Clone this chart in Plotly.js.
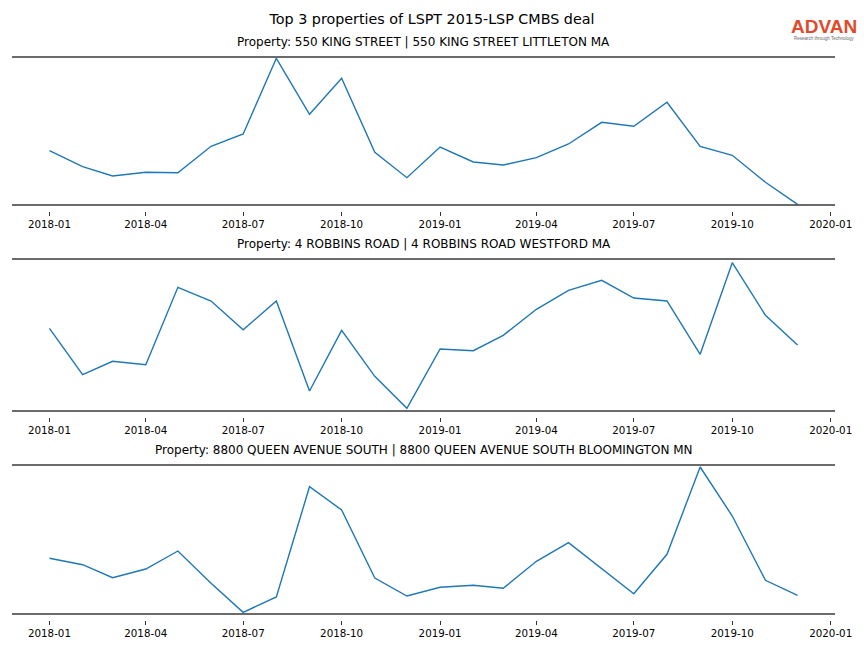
<!DOCTYPE html>
<html>
<head>
<meta charset="utf-8">
<script src="https://cdn.plot.ly/plotly-3.0.1.min.js"></script>
<style>html,body{margin:0;padding:0;background:#fff;}#chart{width:864px;height:648px;}</style>
</head>
<body>
<div id="chart"></div>
<script>
// Monthly dates
const months = ["2018-01-01","2018-02-01","2018-03-01","2018-04-01","2018-05-01","2018-06-01",
  "2018-07-01","2018-08-01","2018-09-01","2018-10-01","2018-11-01","2018-12-01",
  "2019-01-01","2019-02-01","2019-03-01","2019-04-01","2019-05-01","2019-06-01",
  "2019-07-01","2019-08-01","2019-09-01","2019-10-01","2019-11-01","2019-12-01"];

// Relative visit levels (arbitrary units)
const kingStreet = [54.3,38.3,29.0,32.7,32.3,58.7,71.0,146.7,90.7,126.7,52.7,27.3,
  58.0,43.0,40.0,47.3,61.0,82.7,78.7,102.7,58.7,49.7,22.7,0.7];
const robbinsRoad = [82.7,36.3,49.7,46.3,123.7,110.0,81.3,110.0,20.0,80.7,34.7,2.7,
  62.0,60.3,75.7,101.7,120.7,130.7,113.0,110.0,56.7,148.3,95.7,66.0];
const queenAvenue = [55.7,49.3,36.3,45.0,63.0,30.7,1.7,17.0,127.3,104.0,36.0,18.0,
  26.7,28.7,25.7,52.7,71.3,45.7,20.3,59.7,147.0,98.0,33.7,18.7];

const seriesList = [kingStreet, robbinsRoad, queenAvenue];
const subtitles = [
  "Property: 550 KING STREET | 550 KING STREET LITTLETON MA",
  "Property: 4 ROBBINS ROAD | 4 ROBBINS ROAD WESTFORD MA",
  "Property: 8800 QUEEN AVENUE SOUTH | 8800 QUEEN AVENUE SOUTH BLOOMINGTON MN"
];
const yMax = [148, 152, 149];
const tickVals = ["2018-01-01","2018-04-01","2018-07-01","2018-10-01","2019-01-01",
  "2019-04-01","2019-07-01","2019-10-01","2020-01-01"];
const tickLabels = ["2018-01","2018-04","2018-07","2018-10","2019-01","2019-04","2019-07","2019-10","2020-01"];
const mainTitle = "Top 3 properties of LSPT 2015-LSP CMBS deal";

const W = 864, H = 648;
const xDom = [12/W, 835/W];
const yPix = [[57,205],[259,411],[465,614]];

const traces = [];
const layout = {
  width: W, height: H,
  margin: {l:0, r:0, t:0, b:0},
  paper_bgcolor: "#fff", plot_bgcolor: "#fff",
  showlegend: false,
  font: {family: "DejaVu Sans", color: "#000"},
  title: {text: mainTitle, font: {size: 14.3, family: "DejaVu Sans", color: "#000"},
    x: 0.5, xanchor: "center", y: 1 - 19/H, yanchor: "middle"},
  annotations: [],
  shapes: []
};

seriesList.forEach((vals, i) => {
  const n = i + 1;
  const sfx = n === 1 ? "" : String(n);
  traces.push({
    x: months, y: vals, type: "scatter", mode: "lines",
    line: {color: "#1f77b4", width: 1.4},
    xaxis: "x" + sfx, yaxis: "y" + sfx,
    hoverinfo: "skip", cliponaxis: false
  });
  layout["xaxis" + sfx] = {
    domain: xDom, type: "date", range: ["2017-11-27", "2020-01-05"],
    tickvals: tickVals, ticktext: tickLabels,
    ticks: "outside", ticklen: 4, tickwidth: 0.8, tickcolor: "#000",
    showgrid: false, zeroline: false, showline: false,
    tickfont: {size: 10.3, family: "DejaVu Sans", color: "#000"},
    anchor: "free", position: 1 - (yPix[i][1] + 6)/H
  };
  layout["yaxis" + sfx] = {
    domain: [1 - yPix[i][1]/H, 1 - yPix[i][0]/H],
    range: [0, yMax[i]],
    showticklabels: false, ticks: "", showgrid: false, zeroline: false, showline: false,
    anchor: "x" + sfx
  };
  [yPix[i][0], yPix[i][1]].forEach(py => {
    layout.shapes.push({
      type: "line", xref: "paper", yref: "paper",
      x0: xDom[0], x1: xDom[1], y0: 1 - py/H, y1: 1 - py/H,
      line: {color: "#3a3a3a", width: 1.6}
    });
  });
  layout.annotations.push({
    text: subtitles[i], xref: "paper", yref: "paper",
    x: (xDom[0] + xDom[1]) / 2, y: 1 - (yPix[i][0] - 15)/H,
    xanchor: "center", yanchor: "middle", showarrow: false,
    font: {size: 12, family: "DejaVu Sans", color: "#000"}
  });
});

// Logo
layout.annotations.push({
  text: "<b>ADVAN</b>", xref: "paper", yref: "paper",
  x: 824/W, y: 1 - 27/H, xanchor: "center", yanchor: "middle", showarrow: false,
  font: {size: 19, family: "Liberation Sans", color: "#e2492a"}
});
layout.annotations.push({
  text: "Research through Technology", xref: "paper", yref: "paper",
  x: 824/W, y: 1 - 38.5/H, xanchor: "center", yanchor: "middle", showarrow: false,
  font: {size: 4.5, family: "Liberation Sans", color: "#666"}
});

Plotly.newPlot("chart", traces, layout, {staticPlot: true, displayModeBar: false});
</script>
</body>
</html>
